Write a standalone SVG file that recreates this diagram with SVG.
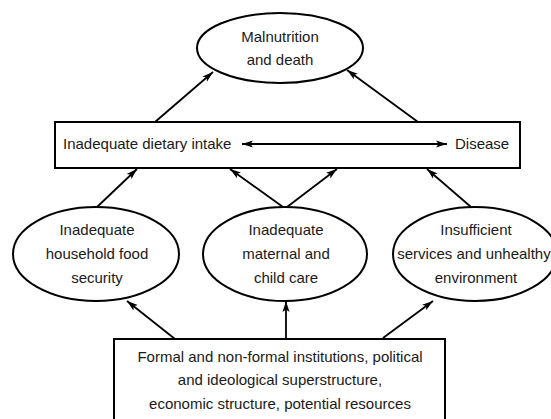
<svg xmlns="http://www.w3.org/2000/svg" width="551" height="419" viewBox="0 0 551 419">
<style>
.shape{fill:#fff;stroke:#000;stroke-width:2}
.t{font-family:"Liberation Sans",Arial,sans-serif;font-size:15px;fill:#1a1a1a;text-anchor:middle}
.ts{font-family:"Liberation Sans",Arial,sans-serif;font-size:15px;fill:#1a1a1a}
.c{stroke:#000;stroke-width:1.8;fill:none}
</style>
<defs>
<marker id="ah" markerUnits="userSpaceOnUse" markerWidth="12" markerHeight="8" refX="11" refY="4" orient="auto-start-reverse" viewBox="0 0 12 8">
<path d="M0,0.5 L11,4 L0,7.5 L2.5,4 z" fill="#000"/>
</marker>
</defs>
<rect width="551" height="419" fill="#fff"/>
<g id="malnutrition">
<ellipse class="shape" cx="280" cy="48" rx="83" ry="35"/>
<text class="t" x="280" y="42">Malnutrition</text>
<text class="t" x="280" y="65">and death</text>
</g>
<g id="intake-disease">
<rect class="shape" x="55" y="122" width="465" height="46"/>
<text class="ts" x="63" y="149">Inadequate dietary intake</text>
<text class="ts" x="455" y="149">Disease</text>
</g>
<g id="food-security">
<ellipse class="shape" cx="96" cy="254" rx="83" ry="47"/>
<text class="t" x="97" y="235">Inadequate</text>
<text class="t" x="97" y="259">household food</text>
<text class="t" x="97" y="283">security</text>
</g>
<g id="care">
<ellipse class="shape" cx="285" cy="254" rx="82" ry="47"/>
<text class="t" x="286" y="235">Inadequate</text>
<text class="t" x="286" y="259">maternal and</text>
<text class="t" x="286" y="283">child care</text>
</g>
<g id="services">
<ellipse class="shape" cx="475" cy="254" rx="82" ry="47"/>
<text class="t" x="476" y="235">Insufficient</text>
<text class="t" x="474" y="259">services and unhealthy</text>
<text class="t" x="476" y="283">environment</text>
</g>
<g id="institutions">
<rect class="shape" x="114" y="339" width="331" height="90"/>
<text class="t" x="280" y="362">Formal and non-formal institutions, political</text>
<text class="t" x="280" y="385">and ideological superstructure,</text>
<text class="t" x="280" y="409">economic structure, potential resources</text>
</g>
<g id="connectors">
<line class="c" x1="155" y1="122" x2="213" y2="72" marker-end="url(#ah)"/>
<line class="c" x1="418" y1="122" x2="347" y2="70" marker-end="url(#ah)"/>
<line class="c" x1="242" y1="144" x2="447" y2="144" marker-start="url(#ah)" marker-end="url(#ah)"/>
<line class="c" x1="97" y1="207" x2="137" y2="169" marker-end="url(#ah)"/>
<line class="c" x1="283" y1="207" x2="230" y2="169" marker-end="url(#ah)"/>
<line class="c" x1="287" y1="207" x2="337" y2="169" marker-end="url(#ah)"/>
<line class="c" x1="471" y1="207" x2="427" y2="169" marker-end="url(#ah)"/>
<line class="c" x1="175" y1="339" x2="127" y2="301" marker-end="url(#ah)"/>
<line class="c" x1="286" y1="339" x2="286" y2="301" marker-end="url(#ah)"/>
<line class="c" x1="383" y1="338" x2="433" y2="301" marker-end="url(#ah)"/>
</g>
</svg>
